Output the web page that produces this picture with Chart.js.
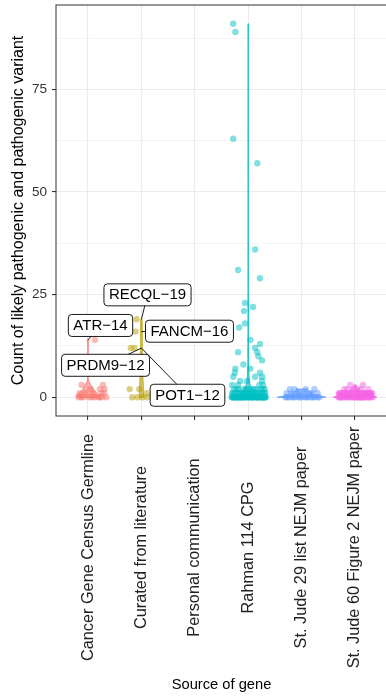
<!DOCTYPE html>
<html lang="en">
<head>
<meta charset="UTF-8">
<title>Pathogenic variants by gene source</title>
<script src="https://cdn.jsdelivr.net/npm/chart.js@4.4.0/dist/chart.umd.min.js"></script>
<style>
  html, body { margin: 0; padding: 0; background: #fff; overflow: hidden; }
</style>
</head>
<body>
<canvas id="chart" width="392" height="698"></canvas>
<script>
// categories on the x axis, and the ggplot hue colour for each
var sources = ["Cancer Gene Census Germline", "Curated from literature", "Personal communication",
               "Rahman 114 CPG", "St. Jude 29 list NEJM paper", "St. Jude 60 Figure 2 NEJM paper"];
var colours = ["#F8766D", "#B79F00", "#00BA38", "#00BFC4", "#619CFF", "#F564E3"];

// count of (likely) pathogenic variants per gene, one list per source
var cgcCounts = [14, 3, 3, 2, 2, 2, 1, 1, 1, 1, 1, 0, 0, 0, 0, 0, 0, 0, 0, 0, 0];
var litCounts = [19, 16, 12, 12, 2, 2, 1, 0, 0, 0, 0];
var rahmanCounts = [91, 89, 63, 57, 36, 31, 29, 23, 22, 21, 18, 17, 14, 13, 12, 11, 11, 10, 9, 8,
                    7, 7, 6, 6, 5, 5, 5, 4, 4, 4, 3, 3, 3, 3,
                    2, 2, 2, 2, 2, 2, 2, 2, 2, 2, 2, 2,
                    1, 1, 1, 1, 1, 1, 1, 1, 1, 1, 1, 1, 1, 1, 1, 1, 1, 1, 1, 1, 1, 1,
                    0, 0, 0, 0, 0, 0, 0, 0, 0, 0, 0, 0, 0, 0, 0, 0, 0, 0, 0, 0, 0, 0, 0,
                    0, 0, 0, 0, 0, 0, 0, 0, 0, 0, 0, 0, 0, 0, 0, 0, 0, 0, 0, 0, 0, 0, 0];
var sj29Counts = [2, 2, 2, 2, 1, 1, 1, 1, 1, 1, 1, 1, 0, 0, 0, 0, 0, 0, 0, 0, 0, 0, 0, 0, 0, 0, 0, 0, 0];
var sj60Counts = [3, 3, 2, 2, 2, 2, 2, 2,
                  1, 1, 1, 1, 1, 1, 1, 1, 1, 1, 1, 1, 1, 1, 1, 1, 1, 1, 1, 1, 1, 1, 1, 1,
                  0, 0, 0, 0, 0, 0, 0, 0, 0, 0, 0, 0, 0, 0, 0, 0, 0, 0, 0, 0, 0, 0, 0, 0, 0, 0, 0, 0];

// horizontal jitter of each point (fraction of a category)
var cgcJitter = [0.13, 0.28, -0.12, 0.22, 0.31, 0.05, 0.25, 0.10, -0.05, 0.30, -0.16,
                 -0.18, -0.09, 0.02, 0.12, 0.19, 0.26, 0.34, 0.07, -0.13, 0.22];
var litJitter = [-0.09, -0.11, -0.20, -0.13, -0.22, -0.04, 0.10, -0.17, 0.02, 0.11, -0.07];
var rahmanJitter = [-0.28, -0.24, -0.28, 0.17, 0.13, -0.19, 0.22, -0.06, 0.09, -0.08, -0.06, -0.17, 0.04, 0.22, 0.13, -0.19, 0.17, 0.19, 0.26, -0.09,
                    0.04, -0.24, 0.22, -0.25, -0.28, 0.13, 0.26, -0.15, -0.02, 0.26, -0.30, -0.19, 0.28, 0.21,
                    -0.27, -0.18, -0.09, 0.00, 0.08, 0.16, 0.24, 0.31, -0.22, 0.12, -0.04, 0.28,
                    -0.30, 0.21, -0.20, 0.04, -0.08, 0.32, -0.02, 0.10, -0.25, 0.15, 0.27, -0.14, -0.28, 0.07, -0.17, 0.01, 0.19, -0.11, 0.25, 0.30, -0.05, 0.13,
                    -0.31, 0.02, -0.25, 0.20, -0.13, 0.29, -0.07, 0.14, -0.19, 0.08, 0.32, -0.28, -0.01, 0.23, -0.16, 0.11, 0.26, -0.22, 0.05, -0.10, 0.17, -0.04, 0.30,
                    -0.30, 0.06, -0.21, 0.24, -0.12, 0.33, -0.26, 0.10, -0.03, 0.19, -0.17, 0.28, -0.08, 0.15, -0.27, 0.01, 0.25, -0.20, 0.16, -0.11, 0.07, 0.30, -0.15];
var sj29Jitter = [0.24, -0.13, 0.08, -0.22,
                  -0.20, 0.05, 0.15, -0.05, 0.30, -0.28, 0.20, -0.10,
                  -0.30, 0.06, -0.18, 0.24, -0.06, 0.12, -0.24, 0.30, 0.00, -0.12, 0.18, -0.27, 0.09, -0.03, 0.21, -0.15, 0.33];
var sj60Jitter = [-0.09, 0.15,
                  -0.02, 0.12, -0.20, 0.25, -0.14, 0.04,
                  -0.28, 0.05, 0.18, -0.12, 0.30, -0.05, 0.10, -0.24, 0.22, 0.00, -0.16, 0.26, -0.08, 0.14, -0.30, 0.07, 0.32, -0.19, 0.02, 0.20, -0.11, 0.28, -0.22, 0.16,
                  -0.31, 0.04, -0.22, 0.16, -0.06, 0.25, -0.14, 0.10, -0.27, 0.19, 0.01, 0.30, -0.18, 0.08, -0.09, 0.23, -0.25, 0.13, -0.03, 0.33, -0.20, 0.06, 0.27, -0.13, 0.15, -0.29, 0.11, -0.01];

// labelled genes
var geneNames = ["ATR\u221214", "RECQL\u221219", "FANCM\u221216", "PRDM9\u221212", "POT1\u221212"];
var geneSource = [0, 1, 1, 1, 1];
var geneCount = [14, 19, 16, 12, 12];
// where the repelled label boxes ended up, in axis units (x = category, y = count)
var boxAtX = [1.234, 2.114, 2.90, 1.328, 2.863];
var boxAtY = [17.5, 24.96, 16.1, 7.8, 0.5];

var yGrid = [0, 12.5, 25, 37.5, 50, 62.5, 75, 87.5];

var groups = [
    {src: 0, counts: cgcCounts, jitter: cgcJitter},
    {src: 1, counts: litCounts, jitter: litJitter},
    {src: 3, counts: rahmanCounts, jitter: rahmanJitter},
    {src: 4, counts: sj29Counts, jitter: sj29Jitter},
    {src: 5, counts: sj60Counts, jitter: sj60Jitter}
];

function alpha(hex, a) {
    var n = parseInt(hex.slice(1), 16);
    return "rgba(" + (n >> 16) + "," + ((n >> 8) & 255) + "," + (n & 255) + "," + a + ")";
}

// R's bw.nrd0
function bandwidth(v) {
    var n = v.length;
    var mean = v.reduce(function (a, b) { return a + b; }, 0) / n;
    var sd = Math.sqrt(v.reduce(function (a, b) { return a + (b - mean) * (b - mean); }, 0) / (n - 1));
    var s = v.slice().sort(function (a, b) { return a - b; });
    function q(p) {
        var h = (n - 1) * p, i = Math.floor(h);
        return s[i] + (h - i) * (s[Math.min(i + 1, n - 1)] - s[i]);
    }
    var lo = Math.min(sd, (q(0.75) - q(0.25)) / 1.34);
    if (!lo) lo = sd || Math.abs(s[0]) || 1;
    return 0.9 * lo * Math.pow(n, -0.2);
}

// gaussian kernel density, trimmed to the data range like geom_violin
function density(v) {
    var bw = bandwidth(v);
    var lo = Math.min.apply(null, v), hi = Math.max.apply(null, v);
    var out = [];
    for (var k = 0; k < 512; k++) {
        var y = lo + (hi - lo) * k / 511;
        var d = 0;
        v.forEach(function (x) { var z = (y - x) / bw; d += Math.exp(-0.5 * z * z); });
        out.push({y: y, d: d / (v.length * bw * Math.sqrt(2 * Math.PI))});
    }
    return out;
}

var dens = groups.map(function (g) { return density(g.counts); });
var maxDens = 0;
dens.forEach(function (ds) { ds.forEach(function (p) { if (p.d > maxDens) maxDens = p.d; }); });

// violin outlines in axis units (scale = "area": width relative to the densest group)
var violins = groups.map(function (g, gi) {
    var c = g.src + 1;
    var right = dens[gi].map(function (p) { return {x: c + 0.45 * p.d / maxDens, y: p.y}; });
    var left = dens[gi].map(function (p) { return {x: c - 0.45 * p.d / maxDens, y: p.y}; }).reverse();
    return {colour: colours[g.src], outline: right.concat(left)};
});

var datasets = groups.map(function (g) {
    return {
        type: "scatter",
        data: g.counts.map(function (v, i) { return {x: g.src + 1 + g.jitter[i], y: v}; }),
        backgroundColor: alpha(colours[g.src], 0.5),
        borderWidth: 0,
        pointRadius: 3.2
    };
});

var FONT = "'Liberation Sans', Arial, Helvetica, sans-serif";
Chart.defaults.font.family = FONT;

var extras = {
    id: "extras",
    afterDatasetsDraw: function (chart) {
        var ctx = chart.ctx, xs = chart.scales.x, ys = chart.scales.y, a = chart.chartArea;
        ctx.save();
        ctx.beginPath();
        ctx.rect(a.left, a.top, a.right - a.left, a.bottom - a.top);
        ctx.clip();
        // violins over the jittered points
        violins.forEach(function (v) {
            ctx.beginPath();
            v.outline.forEach(function (p, i) {
                var px = xs.getPixelForValue(p.x), py = ys.getPixelForValue(p.y);
                if (i === 0) ctx.moveTo(px, py); else ctx.lineTo(px, py);
            });
            ctx.closePath();
            ctx.fillStyle = alpha(v.colour, 0.6);
            ctx.fill();
            ctx.strokeStyle = v.colour;
            ctx.lineWidth = 1;
            ctx.stroke();
        });
        ctx.restore();

        ctx.save();
        // repelled labels
        ctx.font = "15px " + FONT;
        geneNames.forEach(function (name, i) {
            var px = xs.getPixelForValue(geneSource[i] + 1), py = ys.getPixelForValue(geneCount[i]);
            var bx = xs.getPixelForValue(boxAtX[i]), by = ys.getPixelForValue(boxAtY[i]);
            ctx.strokeStyle = "#000";
            ctx.lineWidth = 0.9;
            ctx.beginPath();
            ctx.moveTo(px, py);
            ctx.lineTo(bx, by);
            ctx.stroke();
        });
        geneNames.forEach(function (name, i) {
            var bx = xs.getPixelForValue(boxAtX[i]), by = ys.getPixelForValue(boxAtY[i]);
            var w = ctx.measureText(name).width + 10, h = 22;
            ctx.beginPath();
            ctx.roundRect(bx - w / 2, by - h / 2, w, h, 3.5);
            ctx.fillStyle = "#fff";
            ctx.fill();
            ctx.strokeStyle = "#000";
            ctx.lineWidth = 0.9;
            ctx.stroke();
            ctx.fillStyle = "#000";
            ctx.textAlign = "center";
            ctx.textBaseline = "middle";
            ctx.fillText(name, bx, by + 0.5);
        });
        // panel border
        ctx.strokeStyle = "#333";
        ctx.lineWidth = 1;
        ctx.strokeRect(a.left, a.top, a.right - a.left, a.bottom - a.top);
        // vertical category labels, centred under each tick
        ctx.fillStyle = "#222";
        ctx.font = "16.3px " + FONT;
        ctx.textAlign = "center";
        ctx.textBaseline = "middle";
        sources.forEach(function (s, i) {
            ctx.save();
            ctx.translate(xs.getPixelForValue(i + 1), xs.top + 131.5);
            ctx.rotate(-Math.PI / 2);
            ctx.fillText(s, 0, 0);
            ctx.restore();
        });
        ctx.restore();
    }
};

new Chart(document.getElementById("chart"), {
    type: "scatter",
    data: {datasets: datasets},
    options: {
        responsive: false,
        animation: false,
        layout: {padding: {top: 5, right: 5, left: 0, bottom: 0}},
        plugins: {legend: {display: false}, tooltip: {enabled: false}},
        scales: {
            x: {
                type: "linear",
                min: 0.4,
                max: 6.6,
                afterBuildTicks: function (s) { s.ticks = sources.map(function (_, i) { return {value: i + 1}; }); },
                afterFit: function (s) { s.height = 282; s.paddingLeft = 0; s.paddingRight = 0; },
                grid: {color: "#ebebeb", lineWidth: 1.1, tickColor: "#333", tickLength: 4},
                border: {display: false},
                ticks: {display: false},
                title: {display: true, text: "Source of gene", color: "#000", font: {size: 14.7}, padding: {top: 0, bottom: 4}}
            },
            y: {
                type: "linear",
                min: -4.55,
                max: 95.55,
                afterBuildTicks: function (s) { s.ticks = yGrid.map(function (v) { return {value: v}; }); },
                afterFit: function (s) { s.width = 56; s.paddingTop = 0; s.paddingBottom = 0; },
                grid: {
                    color: "#ebebeb",
                    lineWidth: function (c) { return c.tick && c.tick.value % 25 === 0 ? 1.1 : 0.55; },
                    tickColor: function (c) { return c.tick && c.tick.value % 25 === 0 ? "#333" : "rgba(0,0,0,0)"; },
                    tickLength: 4
                },
                border: {display: false},
                ticks: {
                    color: "#333",
                    font: {size: 13.5},
                    padding: 5,
                    callback: function (v) { return v % 25 === 0 ? String(v) : ""; }
                },
                title: {display: true, text: "Count of likely pathogenic and pathogenic variant", color: "#000", font: {size: 16}, padding: {top: 9, bottom: 0}}
            }
        }
    },
    plugins: [extras]
});
</script>
</body>
</html>
